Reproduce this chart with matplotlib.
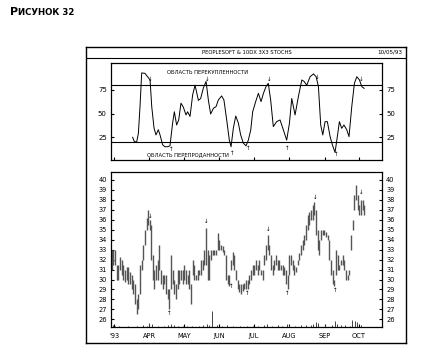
import matplotlib
matplotlib.use('Agg')
import matplotlib.pyplot as plt

# price bars: day (0 = 1 March 1993), low, high
days = [-1.7, -0.6, 0.9, 2.3, 3.8, 5.2, 6.7, 8.2, 9.6, 11.1, 12.5, 14.0, 15.4, 16.9, 18.3,
        19.8, 21.3, 22.7, 24.2, 25.6, 27.1, 28.5, 30.0, 31.4, 32.3, 33.8, 35.0, 36.7, 38.2,
        39.6, 41.1, 42.5, 44.0, 45.4, 46.9, 48.3, 49.8, 51.2, 52.7, 54.1, 55.6, 57.0, 58.5,
        60.0, 61.4, 62.9, 64.3, 65.8, 67.2, 68.7, 70.1, 71.6, 73.1, 74.5, 76.0, 77.4, 78.9,
        80.3, 81.8, 83.2, 84.7, 86.1, 87.6, 89.1, 90.5, 92.0, 93.4, 94.9, 96.3, 97.8, 99.3,
        100.7, 102.2, 103.6, 105.1, 106.5, 108.0, 109.5, 110.9, 112.4, 113.8, 115.3, 116.7,
        118.2, 119.7, 121.1, 122.6, 124.0, 125.5, 126.9, 128.4, 129.8, 131.3, 132.8, 134.2,
        135.7, 137.1, 138.6, 140.0, 141.5, 143.0, 144.4, 145.9, 147.3, 148.8, 150.2, 151.7,
        153.1, 154.6, 156.1, 157.5, 159.0, 160.4, 161.9, 163.3, 164.8, 166.2, 167.7, 169.2,
        170.6, 172.1, 173.5, 175.0, 176.4, 177.9, 179.4, 180.8, 182.3, 183.7, 185.2, 186.6,
        188.1, 189.5, 191.0, 192.5, 193.9, 195.4, 196.8, 198.3, 199.7, 201.2, 202.7, 204.1,
        205.6, 207.0, 208.5, 209.9, 211.4, 212.8, 214.3, 215.8, 217.2, 218.7]
lows = [31, 31.5, 31.5, 30, 30, 31, 30.5, 30, 29.8, 30, 29.5, 29.5, 29, 28.5, 27.5,
        26.5, 27, 28.5, 31, 32, 33.5, 35, 35.5, 35, 32, 30, 29, 30, 30,
        31, 29.5, 29, 29.5, 28.5, 28, 27, 29, 29.5, 28.5, 28, 29, 29.5, 30,
        29.5, 30, 29.5, 29.5, 29, 27.5, 30.5, 30, 30, 30, 30.5, 30.5, 31, 31.5,
        31.5, 30, 30, 32, 32.5, 32.5, 32.5, 33, 33, 33, 32.8, 32.5, 30, 29.5,
        29.3, 31, 31.5, 31, 30, 29, 28.7, 28.5, 28.8, 29, 29, 29,
        29.5, 30, 30.5, 30.5, 31, 30.5, 31, 30.5, 30, 31.5, 32, 33,
        32.5, 31, 30.5, 31, 31.5, 31, 31, 31, 30.5, 30.5, 29.5, 29,
        30.5, 31.5, 31, 30.5, 30.8, 31.5, 32, 32.5, 33, 33.5, 34, 35,
        35.5, 36, 36, 36.5, 34.5, 33, 32.5, 34, 34.5, 34.5, 34.3, 34,
        32, 30.5, 29.5, 29.3, 30.5, 31, 31, 31.5, 31.5, 31, 30, 30,
        30.5, 33, 35, 37, 38, 37, 36.5, 36.5, 37, 36.5]
highs = [33, 33, 33, 31.5, 31.5, 32.3, 32, 31.5, 31, 31.3, 31.3, 30.8, 30.5, 30, 29.5,
         28, 28.5, 31.5, 32, 33.5, 35, 36.2, 37, 36, 35.5, 32.5, 31, 31.5, 32,
         33.5, 31, 30.5, 30.5, 30.5, 29, 29, 32.5, 31, 30, 29.5, 31, 31, 31,
         31, 31.5, 31, 30.5, 31, 29.5, 32, 31.5, 30.5, 31, 31, 32, 32, 33,
         35.2, 33, 32.5, 33, 33, 33, 33, 34.7, 34, 33.5, 33.4, 33, 32.5, 30.5,
         30.5, 32, 32.8, 32.5, 31, 30, 29.5, 29.5, 29.5, 29.7, 30, 30,
         30.5, 31, 31.5, 31.5, 32, 31.5, 32, 31, 31, 32.5, 33.5, 34.5,
         33.5, 32.5, 31.5, 32, 32.5, 32, 32, 31.5, 31.5, 31.3, 31, 30.5,
         32.5, 32.5, 32, 31.5, 31.3, 32, 32.7, 33.5, 34, 34.5, 35.5, 36.5,
         36.8, 37, 37.5, 37.8, 37, 35, 34, 35, 35, 35, 34.8, 34.5,
         34, 32, 31, 30, 33, 32.5, 31.5, 32, 32.5, 32, 31, 30.5,
         31, 34.5, 36, 38.5, 39.5, 38.5, 37.5, 38, 38, 37.5]

# volume ticks at the foot of the price panel (price units above the floor)
vol_days = [-1, 1, 4, 12, 20, 25, 29, 31, 33, 38, 44, 47, 50, 52, 56, 60, 64, 68, 74, 78,
            81, 83, 85.3, 90, 94, 99, 104, 110, 116, 121, 126, 131, 134, 138, 143, 147, 151,
            153, 158, 163, 168, 172, 174, 176, 178, 184, 190, 193, 195, 198, 202, 206, 208,
            210, 212, 216]
vol = [0.2, 0.15, 0.1, 0.1, 0.1, 0.25, 0.15, 0.45, 0.3, 0.15, 0.1, 0.2, 0.35, 0.25, 0.15,
       0.1, 0.15, 0.1, 0.1, 0.2, 0.3, 0.25, 1.6, 0.2, 0.15, 0.2, 0.1, 0.1, 0.15, 0.1, 0.15,
       0.2, 0.35, 0.15, 0.2, 0.15, 0.3, 0.25, 0.15, 0.2, 0.2, 0.25, 0.3, 0.5, 0.4, 0.2, 0.25,
       0.65, 0.35, 0.2, 0.2, 0.15, 0.7, 0.6, 0.5, 0.2]

# 10x 3x3 stochastics
st_days = [16.3, 17.8, 19.8, 21.3, 22.7, 24.2, 27.0, 30.0, 31.5, 33.0, 35.0, 36.7, 38.7,
           40.2, 42.5, 44.5, 46.6, 48.9, 51.2, 52.7, 54.7, 56.5, 58.5, 60.5, 62.9, 64.3,
           66.4, 68.7, 70.8, 73.7, 75.7, 78.0, 80.4, 82.4, 84.4, 86.8, 89.1, 91.1, 94.0,
           96.0, 98.4, 100.7, 102.2, 104.2, 106.3, 108.6, 110.6, 113.0, 115.3, 117.3, 119.4,
           121.1, 123.7, 126.1, 128.4, 130.5, 132.7, 134.7, 136.8, 139.1, 142.0, 145.0,
           147.9, 150.8, 153.2, 155.2, 158.1, 161.0, 164.0, 166.0, 168.3, 171.2, 174.2,
           176.5, 178.5, 180.5, 182.3, 184.3, 186.3, 188.7, 190.7, 193.0, 195.0, 196.8,
           198.8, 200.8, 203.2, 205.2, 207.6, 209.9, 212.0, 214.3, 216.4, 218.4]
stoch = [25, 20.4, 20, 29, 57, 93, 92.6, 88, 85.6, 57, 34.5, 27.5, 33,
         27.5, 17, 15, 15, 16, 40, 52, 38, 43.3, 61, 57, 48.6, 52,
         47, 70, 80, 64, 66, 77, 84, 64.4, 49.6, 55.6, 57.4, 64.4, 68.7,
         64.4, 43.3, 22, 15, 34.5, 47.5, 40, 27.5, 18.7, 16, 22, 32.7,
         52, 62.7, 71.5, 62.7, 71.5, 78.5, 82, 64.4, 36.3, 41.5, 43.3,
         32.7, 22, 40, 66, 48.6, 68, 85.6, 84, 80, 89, 92,
         89, 78.5, 38, 27.5, 41.5, 41.5, 25.7, 17, 9, 25.7, 41.5,
         34.5, 38, 33, 25.7, 57.4, 82, 89, 85.6, 78.5, 76.7]

# turning-point arrows
sell_days = [31.5, 80.3, 134.7, 175.5, 215.5]
sell_price = [36.3, 35.8, 35.0, 38.2, 38.7]
buy_days = [48.3, 102.0, 116.7, 151.5, 193.5]
buy_price = [26.6, 29.3, 28.6, 28.6, 28.9]
st_sell = [85.6, 85.6, 85.6, 88.4, 86]
st_sell_days = [31.8, 81.0, 135.6, 177.6, 215.8]
st_buy = [12, 8, 13.4, 13.4, 6.3]
st_buy_days = [49.8, 102.8, 117.3, 151.4, 193.9]

month_pos = [0, 31, 61, 92, 122, 153, 184, 214]
month_lab = ["'93", 'APR', 'MAY', 'JUN', 'JUL', 'AUG', 'SEP', 'OCT']
price_ticks = list(range(26, 41))
st_ticks = [25, 50, 75]

W, H = 433, 358
plt.rcParams['font.family'] = ['DejaVu Sans']

fig = plt.figure(figsize=(W / 100, H / 100), dpi=100)

def box(x0, y0, x1, y1):
    # pixel box (top-left origin) -> figure fraction rect
    return [x0 / W, 1 - y1 / H, (x1 - x0) / W, (y1 - y0) / H]

# title, small caps look
fig.text(10 / W, 1 - 15 / H, 'Р', fontsize=8, fontweight='bold', ha='left', va='baseline')
fig.text(18 / W, 1 - 15 / H, 'ИСУНОК 32', fontsize=6.2, fontweight='bold',
         ha='left', va='baseline')

# outer frame with header row
frame = fig.add_axes(box(86, 47, 406, 343))
frame.set_xticks([])
frame.set_yticks([])
for s in frame.spines.values():
    s.set_linewidth(1.0)
frame.axhline((343 - 58) / 296, color='black', lw=0.8)
frame.text((247 - 86) / 320, (343 - 52.5) / 296, 'PEOPLESOFT & 10DX 3X3 STOCHS',
           fontsize=3.8, ha='center', va='center')
frame.text((402 - 86) / 320, (343 - 52.5) / 296, '10/05/93',
           fontsize=4.1, ha='right', va='center')

# stochastics panel
ax1 = fig.add_axes(box(111, 63, 382, 160))
ax1.plot(st_days, stoch, color='black', lw=0.7)
ax1.axhline(80, color='black', lw=0.8)
ax1.axhline(20, color='black', lw=0.8)
ax1.set_xlim(-2.6, 234)
ax1.set_ylim(1, 103.5)
ax1.set_yticks(st_ticks)
ax1.set_yticklabels([str(v) for v in st_ticks])
ax1.set_xticks(month_pos)
ax1.set_xticklabels([])
ax1.tick_params(axis='y', direction='in', length=2, labelsize=5, pad=3,
                right=True, labelright=True)
ax1.tick_params(axis='x', direction='in', length=2)
ax1.text(46.3, 93, 'ОБЛАСТЬ ПЕРЕКУПЛЕННОСТИ', fontsize=3.8, va='center', ha='left')
ax1.text(28.8, 6.3, 'ОБЛАСТЬ ПЕРЕПРОДАННОСТИ', fontsize=3.8, va='center', ha='left')
for d, v in zip(st_sell_days, st_sell):
    ax1.text(d, v, '↓', fontsize=4, ha='center', va='center')
for d, v in zip(st_buy_days, st_buy):
    ax1.text(d, v, '↑', fontsize=4, ha='center', va='center')
for s in ax1.spines.values():
    s.set_linewidth(0.9)

# price panel
ax2 = fig.add_axes(box(111, 172, 382, 327))
ax2.vlines(days, lows, highs, color='#555555', lw=1.0)
floor = 25.23
ax2.vlines(vol_days, floor, [floor + v for v in vol], color='#444444', lw=0.7)
for d, p in zip(sell_days, sell_price):
    ax2.text(d, p, '↓', fontsize=4, ha='center', va='center')
for d, p in zip(buy_days, buy_price):
    ax2.text(d, p, '↑', fontsize=4, ha='center', va='center')
ax2.set_xlim(-2.6, 234)
ax2.set_ylim(floor, 40.8)
ax2.set_yticks(price_ticks)
ax2.set_yticklabels([str(v) for v in price_ticks])
ax2.set_xticks(month_pos)
ax2.set_xticklabels(month_lab)
ax2.tick_params(axis='y', direction='in', length=2, labelsize=4.8, pad=3,
                right=True, labelright=True)
ax2.tick_params(axis='x', direction='in', length=2, labelsize=4.8, pad=4)
for s in ax2.spines.values():
    s.set_linewidth(0.9)

fig.savefig('out.png', dpi=100)
